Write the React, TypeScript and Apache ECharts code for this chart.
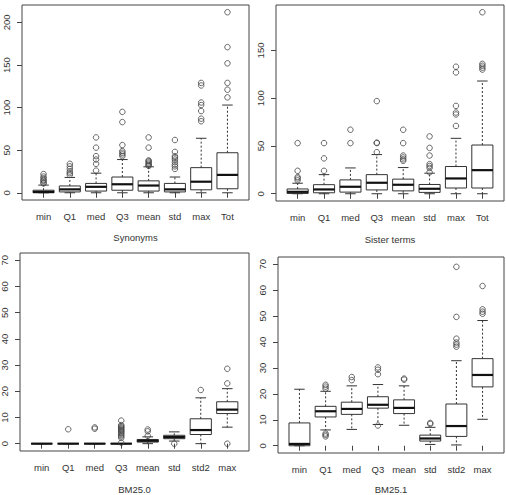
import { useEffect, useRef } from 'react';
import * as echarts from 'echarts';

// Box statistics per column: [lower whisker, Q1, median, Q3, upper whisker]
const synCategories = ['min', 'Q1', 'med', 'Q3', 'mean', 'std', 'max', 'Tot'];
const synBoxes = [
  [0, 0, 1, 3, 9],
  [0, 1, 4, 8, 18],
  [0, 2, 7, 11, 23],
  [0, 3, 10, 18.5, 39],
  [0, 2, 8.5, 14, 30.5],
  [0, 1, 4, 11, 18.5],
  [0, 3.5, 13, 29.5, 64],
  [0, 4.7, 21, 47, 103],
];
const synOutliers = [
  [11, 12, 14, 15, 17, 19, 22],
  [21, 23, 25, 28, 31, 34],
  [26, 34, 39, 43, 53, 65],
  [43, 45, 47, 49, 56, 83, 95],
  [31.5, 32.5, 34, 35.5, 37, 38, 53, 65],
  [28, 31, 33, 36, 39, 41, 43, 48, 62],
  [84, 87, 96, 103, 106, 126, 129],
  [112, 121, 129, 152, 171, 212],
];
const synTicks = [0, 50, 100, 150, 200];

const sisCategories = ['min', 'Q1', 'med', 'Q3', 'mean', 'std', 'max', 'Tot'];
const sisBoxes = [
  [0, 0.3, 2, 5, 11],
  [0, 1, 4.5, 9.5, 20],
  [0, 1.7, 7.3, 14.5, 27],
  [0, 4, 11.5, 20, 41],
  [0, 3, 9.4, 15.3, 27.4],
  [0, 1.4, 5.2, 9.7, 21.5],
  [0, 6, 16, 28.5, 58],
  [0, 6, 24.7, 51, 118],
];
const sisOutliers = [
  [14, 16, 17.5, 24, 53],
  [24, 37, 53],
  [53, 67],
  [43.5, 53, 53.5, 97],
  [34.5, 36, 38, 40, 53, 67],
  [22.5, 27, 29, 31, 40, 48, 60],
  [71, 83, 85, 92, 127, 133],
  [130, 132, 134, 136, 190],
];
const sisTicks = [0, 50, 100, 150];

const bm0Categories = ['min', 'Q1', 'med', 'Q3', 'mean', 'std', 'std2', 'max'];
const bm0Boxes = [
  [0, 0, 0, 0, 0],
  [0, 0, 0, 0, 0],
  [0, 0, 0, 0, 0],
  [0, 0, 0, 0, 0],
  [0, 0.6, 1.1, 1.6, 2.6],
  [1.0, 1.9, 2.5, 3.2, 4.5],
  [0, 3.5, 5.2, 9.5, 17.5],
  [6.3, 11.5, 13, 16, 21],
];
const bm0Outliers = [
  [],
  [5.5],
  [5.7, 6.2],
  [0.4, 2.2, 2.8, 3.3, 3.8, 4.3, 4.7, 5.1, 5.5, 5.9, 6.3, 6.7, 7.1, 8.8],
  [3.0, 4.7, 5.4],
  [0],
  [20.5],
  [0, 23, 28.6],
];

const bm1Categories = ['min', 'Q1', 'med', 'Q3', 'mean', 'std', 'std2', 'max'];
const bm1Boxes = [
  [0, 0, 0.7, 8.8, 21.8],
  [6.1, 11.1, 13.3, 15.2, 21],
  [6.3, 12.1, 14.2, 16.8, 23.1],
  [8.2, 14.5, 15.8, 18.9, 23.6],
  [7.9, 12.4, 14.6, 17.7, 23.1],
  [0.5, 1.8, 2.8, 4.1, 7.1],
  [0.3, 3.6, 7.6, 16.1, 32.8],
  [10.2, 22.7, 27.3, 33.6, 48.3],
];
const bm1Outliers = [
  [],
  [3.6, 4.2, 4.7, 22, 22.8, 23.5],
  [25.3, 26.5],
  [7.8, 27.6, 29.3, 30.2],
  [25.5, 25.9],
  [8.4, 8.8],
  [38.2, 39, 39.8, 41.3, 49.7, 69],
  [50.9, 51.7, 52.6, 61.6],
];
const bmTicks = [0, 10, 20, 30, 40, 50, 60, 70];

const panels = [
  { title: 'Synonyms', cats: synCategories, boxes: synBoxes, outliers: synOutliers, ticks: synTicks, yRange: [0, 212] },
  { title: 'Sister terms', cats: sisCategories, boxes: sisBoxes, outliers: sisOutliers, ticks: sisTicks, yRange: [0, 190] },
  { title: 'BM25.0', cats: bm0Categories, boxes: bm0Boxes, outliers: bm0Outliers, ticks: bmTicks, yRange: [0, 70] },
  { title: 'BM25.1', cats: bm1Categories, boxes: bm1Boxes, outliers: bm1Outliers, ticks: bmTicks, yRange: [0, 70] },
];

// Plot frames for the 2x2 layout
const frames = [
  { left: 22, top: 5, width: 227, height: 195, nameGap: 32 },
  { left: 276, top: 5, width: 228, height: 196, nameGap: 33 },
  { left: 20, top: 253, width: 229, height: 198, nameGap: 33 },
  { left: 278, top: 257, width: 226, height: 196, nameGap: 31 },
];

const FONT = 'Liberation Sans, Arial, Helvetica, sans-serif';
const INK = '#333';

function extend(lo: number, hi: number): [number, number] {
  const d = (hi - lo) * 0.04;
  return [lo - d, hi + d];
}

export default function App() {
  const ref = useRef<HTMLDivElement>(null);

  useEffect(() => {
    if (!ref.current) return;
    const chart = echarts.init(ref.current, undefined, { renderer: 'svg' });

    const grid: any[] = [];
    const xAxis: any[] = [];
    const yAxis: any[] = [];
    const series: any[] = [];

    panels.forEach((p, i) => {
      const f = frames[i];
      const n = p.cats.length;
      const xExt = extend(0.5, n + 0.5);
      const yExt = extend(p.yRange[0], p.yRange[1]);
      const positions = p.cats.map((_, k) => k + 1);

      grid.push({
        left: f.left,
        top: f.top,
        width: f.width,
        height: f.height,
        show: true,
        borderColor: '#444',
        borderWidth: 1,
        backgroundColor: 'transparent',
        containLabel: false,
        outerBoundsMode: 'none',
      });

      xAxis.push({
        type: 'value',
        gridIndex: i,
        min: xExt[0],
        max: xExt[1],
        splitLine: { show: false },
        axisLine: { show: false },
        axisTick: { show: true, length: 5, customValues: positions, lineStyle: { color: '#444', width: 1 } },
        axisLabel: {
          customValues: positions,
          formatter: (v: number) => p.cats[Math.round(v) - 1] ?? '',
          margin: 11,
          fontSize: 9.5,
          color: INK,
          fontFamily: FONT,
        },
        name: p.title,
        nameLocation: 'middle',
        nameGap: f.nameGap,
        nameTextStyle: { fontSize: 9.5, color: INK, fontFamily: FONT },
      });

      yAxis.push({
        type: 'value',
        gridIndex: i,
        min: yExt[0],
        max: yExt[1],
        splitLine: { show: false },
        axisLine: { show: false },
        axisTick: { show: true, length: 5, customValues: p.ticks, lineStyle: { color: '#444', width: 1 } },
        axisLabel: {
          customValues: p.ticks,
          rotate: 90,
          margin: 11,
          fontSize: 9.5,
          color: INK,
          fontFamily: FONT,
        },
      });

      series.push({
        type: 'custom',
        xAxisIndex: i,
        yAxisIndex: i,
        clip: false,
        silent: true,
        data: p.boxes.map((b, k) => [k + 1, ...b]),
        encode: { x: 0, y: [1, 2, 3, 4, 5] },
        renderItem: (_params: any, api: any) => {
          const x = api.value(0);
          const cx = api.coord([x, 0])[0];
          const yLo = api.coord([x, api.value(1)])[1];
          const yQ1 = api.coord([x, api.value(2)])[1];
          const yMed = api.coord([x, api.value(3)])[1];
          const yQ3 = api.coord([x, api.value(4)])[1];
          const yHi = api.coord([x, api.value(5)])[1];
          const unit = api.size([1, 0])[0];
          const half = unit * 0.4;
          const cap = unit * 0.2;
          const solid = { stroke: INK, lineWidth: 1, fill: 'none' };
          const dashed = { stroke: INK, lineWidth: 1, lineDash: [2, 2], fill: 'none' };
          return {
            type: 'group',
            children: [
              { type: 'line', shape: { x1: cx, y1: yQ3, x2: cx, y2: yHi }, style: dashed },
              { type: 'line', shape: { x1: cx, y1: yQ1, x2: cx, y2: yLo }, style: dashed },
              { type: 'line', shape: { x1: cx - cap, y1: yHi, x2: cx + cap, y2: yHi }, style: solid },
              { type: 'line', shape: { x1: cx - cap, y1: yLo, x2: cx + cap, y2: yLo }, style: solid },
              {
                type: 'rect',
                shape: { x: cx - half, y: yQ3, width: half * 2, height: yQ1 - yQ3 },
                style: { stroke: INK, lineWidth: 1, fill: 'none' },
              },
              {
                type: 'line',
                shape: { x1: cx - half, y1: yMed, x2: cx + half, y2: yMed },
                style: { stroke: '#111', lineWidth: 2.2 },
              },
            ],
          };
        },
      });

      const pts: number[][] = [];
      p.outliers.forEach((vals, k) => vals.forEach((v) => pts.push([k + 1, v])));
      series.push({
        type: 'scatter',
        xAxisIndex: i,
        yAxisIndex: i,
        silent: true,
        data: pts,
        symbol: 'circle',
        symbolSize: 5.5,
        itemStyle: { color: 'rgba(0,0,0,0)', borderColor: '#444', borderWidth: 1 },
        z: 3,
      });
    });

    chart.setOption({
      animation: false,
      backgroundColor: '#fff',
      grid,
      xAxis,
      yAxis,
      series,
    });

    return () => chart.dispose();
  }, []);

  return (
    <div
      ref={ref}
      style={{ position: 'absolute', left: 0, top: 0, width: 506, height: 495 }}
    />
  );
}
